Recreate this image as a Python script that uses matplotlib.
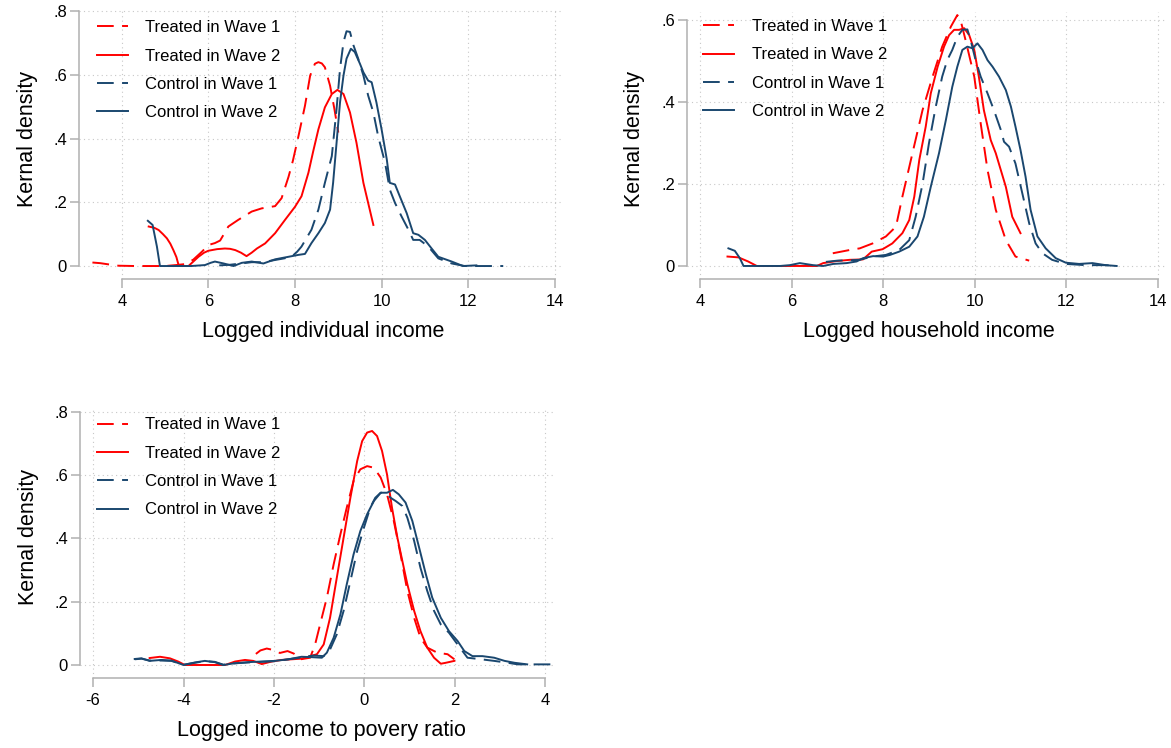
import matplotlib
matplotlib.use("Agg")
import matplotlib.pyplot as plt

plt.rcParams['font.family'] = ['Liberation Sans', 'DejaVu Sans']

RED = '#ff0000'
NAVY = '#1a476f'
GRAY = '#b0b0b0'

labels = ["Treated in Wave 1", "Treated in Wave 2", "Control in Wave 1", "Control in Wave 2"]

# panel 1: logged individual income
p1_tw1_x = [3.32, 3.5, 3.7, 3.92, 4.3, 4.7, 5.0, 5.25, 5.46, 5.65, 5.85, 6.0, 6.15, 6.27, 6.46, 6.69, 7.0, 7.23, 7.54,
            7.69, 7.85, 7.95, 8.08, 8.23, 8.35, 8.46, 8.54, 8.62, 8.69, 8.81, 8.91, 9.0]
p1_tw1_y = [0.011, 0.009, 0.005, 0.001, 0, 0, 0, 0.003, 0.006, 0.02, 0.045, 0.066, 0.072, 0.08, 0.124, 0.145, 0.171,
            0.181, 0.188, 0.213, 0.28, 0.33, 0.408, 0.503, 0.598, 0.635, 0.64, 0.636, 0.624, 0.566, 0.493, 0.419]
p1_tw2_x = [4.62, 4.75, 4.85, 4.95, 5.04, 5.12, 5.19, 5.26, 5.31, 5.45, 5.54, 5.65, 5.77, 5.9, 6.0, 6.2, 6.38, 6.5,
            6.62, 6.75, 6.88, 7.0, 7.12, 7.31, 7.54, 7.77, 8.0, 8.15, 8.31, 8.42, 8.54, 8.69, 8.85, 8.98, 9.12, 9.27,
            9.42, 9.58, 9.69, 9.81]
p1_tw2_y = [0.124, 0.12, 0.113, 0.1, 0.087, 0.07, 0.05, 0.028, 0.003, 0.0, 0.0, 0.014, 0.029, 0.042, 0.048, 0.053,
            0.055, 0.054, 0.05, 0.042, 0.031, 0.042, 0.055, 0.071, 0.103, 0.145, 0.186, 0.219, 0.293, 0.36, 0.429,
            0.498, 0.54, 0.553, 0.54, 0.482, 0.387, 0.261, 0.198, 0.129]
p1_cw1_x = [6.25, 6.5, 6.75, 7.0, 7.25, 7.5, 7.75, 7.92, 8.05, 8.15, 8.38, 8.54, 8.69, 8.85, 8.96, 9.04, 9.12, 9.19,
            9.27, 9.35, 9.46, 9.58, 9.69, 9.81, 9.92, 10.08, 10.19, 10.31, 10.46, 10.62, 10.73, 10.88, 11.08, 11.31,
            11.62, 11.92, 12.23, 12.54, 12.81]
p1_cw1_y = [0.002, 0.004, 0.008, 0.012, 0.012, 0.018, 0.024, 0.029, 0.045, 0.061, 0.114, 0.177, 0.261, 0.345, 0.493,
            0.619, 0.703, 0.737, 0.735, 0.693, 0.651, 0.598, 0.535, 0.482, 0.408, 0.324, 0.24, 0.198, 0.156, 0.114,
            0.082, 0.082, 0.061, 0.024, 0.008, 0, 0, 0, 0]
p1_cw2_x = [4.6, 4.71, 4.81, 4.88, 5.23, 5.6, 5.92, 6.05, 6.15, 6.35, 6.58, 6.77, 7.0, 7.27, 7.54, 7.85, 8.08, 8.23,
            8.38, 8.54, 8.69, 8.81, 8.88, 8.96, 9.04, 9.12, 9.19, 9.29, 9.38, 9.5, 9.58, 9.69, 9.77, 9.88, 10.0, 10.12,
            10.19, 10.31, 10.42, 10.58, 10.73, 10.85, 11.0, 11.15, 11.31, 11.62, 11.88, 12.19]
p1_cw2_y = [0.142, 0.129, 0.061, 0.0, 0.0, 0.0, 0.003, 0.01, 0.014, 0.008, 0.0, 0.01, 0.014, 0.008, 0.021, 0.029,
            0.035, 0.038, 0.072, 0.103, 0.135, 0.177, 0.261, 0.387, 0.514, 0.598, 0.651, 0.682, 0.672, 0.635, 0.608,
            0.582, 0.577, 0.514, 0.429, 0.335, 0.261, 0.256, 0.219, 0.166, 0.103, 0.098, 0.082, 0.056, 0.029, 0.014,
            0.0, 0.002]

# panel 2: logged household income
p2_tw1_x = [6.9, 7.27, 7.49, 7.77, 8.06, 8.28, 8.42, 8.64, 8.86, 9.08, 9.29, 9.48, 9.62, 9.69, 9.8, 9.99, 10.13,
            10.28, 10.46, 10.68, 10.89, 11.19]
p2_tw1_y = [0.031, 0.039, 0.043, 0.055, 0.072, 0.096, 0.169, 0.275, 0.38, 0.462, 0.535, 0.584, 0.612, 0.6, 0.551,
            0.462, 0.348, 0.234, 0.137, 0.063, 0.023, 0.013]
p2_tw2_x = [4.6, 4.84, 5.05, 5.24, 5.6, 6.0, 6.3, 6.55, 6.69, 6.98, 7.27, 7.56, 7.75, 7.99, 8.2, 8.42, 8.57, 8.68,
            8.79, 8.93, 9.04, 9.19, 9.33, 9.44, 9.55, 9.66, 9.77, 9.88, 9.99, 10.09, 10.2, 10.35, 10.46, 10.57, 10.68,
            10.82, 11.0]
p2_tw2_y = [0.023, 0.021, 0.011, 0.0, 0.0, 0.0, 0.0, 0.0, 0.007, 0.012, 0.015, 0.016, 0.035, 0.041, 0.055, 0.08,
            0.112, 0.169, 0.259, 0.34, 0.421, 0.486, 0.535, 0.563, 0.576, 0.576, 0.58, 0.563, 0.527, 0.462, 0.38,
            0.307, 0.275, 0.234, 0.193, 0.12, 0.08]
p2_cw1_x = [6.75, 7.0, 7.3, 7.48, 7.77, 8.06, 8.35, 8.57, 8.71, 8.86, 9.0, 9.15, 9.29, 9.4, 9.51, 9.62, 9.73, 9.84,
            9.91, 10.02, 10.13, 10.28, 10.42, 10.57, 10.64, 10.75, 10.89, 11.04, 11.19, 11.33, 11.48, 11.69, 11.99,
            12.42, 12.86, 13.1]
p2_cw1_y = [0.01, 0.013, 0.014, 0.015, 0.023, 0.027, 0.039, 0.063, 0.12, 0.2, 0.299, 0.389, 0.462, 0.502, 0.527,
            0.559, 0.576, 0.577, 0.551, 0.502, 0.462, 0.421, 0.38, 0.332, 0.303, 0.291, 0.25, 0.177, 0.104, 0.055,
            0.031, 0.015, 0.005, 0.002, 0.002, 0.0]
p2_cw2_x = [4.62, 4.76, 4.87, 4.95, 5.4, 5.75, 5.96, 6.18, 6.47, 6.69, 6.91, 7.2, 7.42, 7.56, 7.78, 8.0, 8.15, 8.35,
            8.57, 8.75, 8.89, 9.04, 9.22, 9.37, 9.51, 9.62, 9.73, 9.84, 9.95, 10.06, 10.17, 10.28, 10.39, 10.53,
            10.68, 10.79, 10.89, 11.0, 11.11, 11.22, 11.37, 11.55, 11.77, 11.99, 12.28, 12.57, 12.86, 13.1]
p2_cw2_y = [0.043, 0.037, 0.019, 0.0, 0.0, 0.0, 0.002, 0.007, 0.002, 0.0, 0.005, 0.007, 0.011, 0.019, 0.024, 0.023,
            0.027, 0.035, 0.047, 0.072, 0.12, 0.193, 0.275, 0.356, 0.437, 0.486, 0.527, 0.535, 0.531, 0.543, 0.527,
            0.502, 0.486, 0.462, 0.429, 0.389, 0.34, 0.283, 0.218, 0.137, 0.072, 0.043, 0.019, 0.008, 0.005, 0.007,
            0.002, 0.0]

# panel 3: logged income to poverty ratio
p3_tw1_x = [-2.4, -2.3, -2.16, -2.0, -1.87, -1.7, -1.56, -1.41, -1.2, -1.09, -0.98, -0.83, -0.68, -0.53, -0.39,
            -0.24, -0.09, 0.06, 0.21, 0.36, 0.5, 0.65, 0.8, 0.95, 1.1, 1.24, 1.39, 1.61, 1.84, 1.99]
p3_tw1_y = [0.035, 0.046, 0.052, 0.047, 0.038, 0.044, 0.036, 0.018, 0.023, 0.065, 0.128, 0.213, 0.318, 0.413, 0.497,
            0.581, 0.618, 0.628, 0.623, 0.592, 0.539, 0.455, 0.349, 0.234, 0.149, 0.086, 0.055, 0.039, 0.034, 0.018]
p3_tw2_x = [-4.75, -4.52, -4.3, -4.12, -3.97, -3.45, -3.08, -2.86, -2.64, -2.46, -2.27, -2.05, -1.83, -1.61, -1.39,
            -1.24, -1.05, -0.9, -0.76, -0.61, -0.46, -0.31, -0.16, -0.05, 0.06, 0.17, 0.28, 0.39, 0.5, 0.61, 0.73,
            0.84, 0.95, 1.1, 1.24, 1.39, 1.54, 1.69, 1.8, 1.99]
p3_tw2_y = [0.022, 0.026, 0.021, 0.011, 0.0, 0.0, 0.0, 0.011, 0.016, 0.013, 0.003, 0.011, 0.016, 0.018, 0.02, 0.026,
            0.034, 0.065, 0.149, 0.276, 0.402, 0.528, 0.644, 0.707, 0.734, 0.739, 0.723, 0.676, 0.602, 0.497, 0.402,
            0.328, 0.255, 0.171, 0.107, 0.055, 0.023, 0.004, 0.007, 0.013]
p3_cw1_x = [-5.08, -4.93, -4.75, -4.49, -4.27, -4.0, -3.75, -3.53, -3.31, -3.12, -2.9, -2.57, -2.27, -1.98, -1.68,
            -1.39, -1.13, -0.9, -0.76, -0.61, -0.46, -0.31, -0.16, -0.01, 0.13, 0.24, 0.36, 0.47, 0.58, 0.69, 0.84,
            0.95, 1.1, 1.24, 1.39, 1.54, 1.69, 1.87, 2.06, 2.28, 2.58, 2.87, 3.17, 3.39, 3.7, 4.15]
p3_cw1_y = [0.018, 0.02, 0.014, 0.014, 0.013, 0.001, 0.007, 0.012, 0.01, 0.001, 0.005, 0.008, 0.01, 0.012, 0.018,
            0.024, 0.03, 0.028, 0.049, 0.097, 0.171, 0.265, 0.36, 0.434, 0.497, 0.528, 0.544, 0.544, 0.528, 0.518,
            0.502, 0.465, 0.392, 0.307, 0.234, 0.171, 0.128, 0.102, 0.065, 0.023, 0.018, 0.013, 0.007, 0.002, 0.002,
            0.002]
p3_cw2_x = [-5.08, -4.93, -4.75, -4.49, -4.27, -4.0, -3.75, -3.53, -3.31, -3.12, -2.9, -2.57, -2.27, -1.98, -1.68,
            -1.39, -1.2, -0.94, -0.83, -0.68, -0.53, -0.39, -0.24, -0.09, 0.06, 0.21, 0.36, 0.5, 0.63, 0.76, 0.91,
            1.06, 1.21, 1.36, 1.5, 1.69, 1.87, 2.06, 2.21, 2.39, 2.61, 2.87, 3.1, 3.32, 3.6]
p3_cw2_y = [0.019, 0.021, 0.013, 0.016, 0.014, 0.0, 0.008, 0.013, 0.009, 0.0, 0.005, 0.009, 0.011, 0.013, 0.018,
            0.026, 0.025, 0.023, 0.039, 0.086, 0.16, 0.255, 0.349, 0.423, 0.476, 0.518, 0.544, 0.544, 0.553, 0.539,
            0.513, 0.455, 0.371, 0.286, 0.213, 0.149, 0.107, 0.076, 0.044, 0.028, 0.028, 0.023, 0.013, 0.007, 0.002]

xticks_income = [4, 6, 8, 10, 12, 14]
xticks_ratio = [-6, -4, -2, 0, 2, 4]
yticks_08 = [0, 0.2, 0.4, 0.6, 0.8]
yticks_06 = [0, 0.2, 0.4, 0.6]

W, H = 1171, 748
DASH = (0, (8.6, 4.3))


def make_axes(fig, left, right, top, bottom):
    return fig.add_axes([left / W, 1 - bottom / H, (right - left) / W, (bottom - top) / H])


def style(ax, xlim, ylim, xticks, yticks, xlabel, xlab_pos, ylab_pos):
    ax.set_xlim(*xlim)
    ax.set_ylim(*ylim)
    ax.set_xticks(xticks)
    ax.set_xticklabels([str(t) for t in xticks])
    ax.set_yticks(yticks)
    ax.set_yticklabels(["0" if t == 0 else ("%.1f" % t).lstrip("0") for t in yticks])
    for s in ['top', 'right']:
        ax.spines[s].set_visible(False)
    for s in ['left', 'bottom']:
        ax.spines[s].set_color(GRAY)
        ax.spines[s].set_linewidth(1.1)
    ax.spines['left'].set_bounds(yticks[0], yticks[-1])
    ax.spines['bottom'].set_bounds(xticks[0], xticks[-1])
    ax.tick_params(direction='out', length=6.5, width=1.1, color=GRAY, labelsize=12)
    ax.tick_params(axis='x', pad=4)
    ax.tick_params(axis='y', pad=2.2)
    ax.grid(True, linestyle=(0, (1, 3)), color='#c8c8c8', linewidth=0.8)
    ax.set_axisbelow(True)
    ax.set_xlabel(xlabel, fontsize=15.5)
    ax.set_ylabel("Kernal density", fontsize=15.5)
    ax.xaxis.set_label_coords(*xlab_pos)
    ax.yaxis.set_label_coords(*ylab_pos)


def draw(ax, series, legend_anchor):
    styles = [(RED, DASH), (RED, '-'), (NAVY, DASH), (NAVY, '-')]
    handles = []
    for (xs, ys), (c, ls), lab in zip(series, styles, labels):
        h, = ax.plot(xs, ys, color=c, linestyle=ls, linewidth=1.4, label=lab)
        handles.append(h)
    ax.legend(handles=handles, loc='upper left', bbox_to_anchor=legend_anchor, frameon=False, fontsize=12,
              handlelength=1.87, handletextpad=1.03, labelspacing=0.8, borderpad=0, borderaxespad=0)


fig = plt.figure(figsize=(W / 100, H / 100), dpi=100)

ax1 = make_axes(fig, 79, 563.4, 8.0, 279.4)
style(ax1, (3.01, 14.2), (-0.042, 0.81), xticks_income, yticks_08, "Logged individual income",
      (0.505, -0.152), (-0.085, 0.517))
draw(ax1, [(p1_tw1_x, p1_tw1_y), (p1_tw2_x, p1_tw2_y), (p1_cw1_x, p1_cw1_y), (p1_cw2_x, p1_cw2_y)],
     (0.0365, 0.955))

ax2 = make_axes(fig, 687.2, 1167, 11.8, 279.3)
style(ax2, (3.72, 14.2), (-0.0325, 0.62), xticks_income, yticks_06, "Logged household income",
      (0.504, -0.155), (-0.0875, 0.524))
draw(ax2, [(p2_tw1_x, p2_tw1_y), (p2_tw2_x, p2_tw2_y), (p2_cw1_x, p2_cw1_y), (p2_cw2_x, p2_cw2_y)],
     (0.0336, 0.973))

ax3 = make_axes(fig, 80, 554.3, 408.5, 678.3)
style(ax3, (-6.29, 4.2), (-0.042, 0.81), xticks_ratio, yticks_08, "Logged income to povery ratio",
      (0.508, -0.156), (-0.086, 0.522))
draw(ax3, [(p3_tw1_x, p3_tw1_y), (p3_tw2_x, p3_tw2_y), (p3_cw1_x, p3_cw1_y), (p3_cw2_x, p3_cw2_y)],
     (0.035, 0.967))

fig.savefig("out.png", dpi=100)
